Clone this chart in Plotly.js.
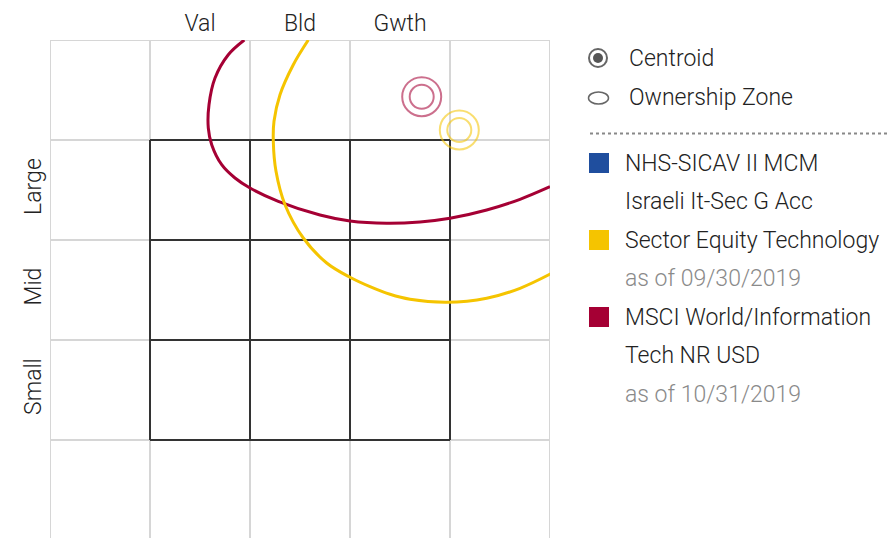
<!DOCTYPE html>
<html><head><meta charset="utf-8">
<script src="https://cdn.plot.ly/plotly-3.0.1.min.js"></script>
<style>html,body{margin:0;padding:0;overflow:hidden;background:#fff}</style>
</head><body><div id="chart" style="width:887px;height:538px"></div>
<script>
// ---- data ----
const styleLabels = ['Val', 'Bld', 'Gwth'];
const styleTicks = [0.5, 1.5, 2.5];
const sizeLabels = ['Small', 'Mid', 'Large'];
const sizeTicks = [0.5, 1.5, 2.5];
const gridX = [-1, 0, 1, 2, 3, 4];
const gridY = [0, 1, 2, 3, 4];
const boxEdges = [0, 1, 2, 3];

// Ownership zone outlines
const msciZoneX = [0.943, 0.783, 0.65, 0.59, 0.583, 0.617, 0.717, 0.85, 1.0, 1.283, 1.70, 2.0, 2.367, 2.70, 3.0, 3.367, 3.70, 4.0];
const msciZoneY = [4.0, 3.853, 3.62, 3.353, 3.12, 2.953, 2.753, 2.62, 2.52, 2.387, 2.25, 2.19, 2.167, 2.18, 2.217, 2.30, 2.407, 2.533];
const techZoneX = [1.583, 1.433, 1.30, 1.24, 1.233, 1.26, 1.35, 1.533, 1.767, 2.0, 2.20, 2.40, 2.60, 2.967, 3.367, 3.70, 4.017];
const techZoneY = [4.0, 3.753, 3.453, 3.187, 2.987, 2.687, 2.353, 2.02, 1.77, 1.627, 1.533, 1.457, 1.407, 1.377, 1.417, 1.517, 1.667];

// Centroids
const msciCentroid = [2.717, 3.433];
const techCentroid = [3.093, 3.10];

// Legend
const seriesNames = [['NHS-SICAV II MCM', 'Israeli It-Sec G Acc'], ['Sector Equity Technology', 'as of 09/30/2019'], ['MSCI World/Information', 'Tech NR USD', 'as of 10/31/2019']];
const seriesColors = ['#1f4e9e', '#f5c400', '#a50034'];
const keyLabels = ['Centroid', 'Ownership Zone'];

// ---- layout helpers ----
const FONT = "Roboto, 'Liberation Sans', sans-serif";
const W = 887, H = 538, ML = 50, MT = 40, PW = 500, PH = 498;
const px = x => (x - ML) / PW;
const py = y => (H - y) / PH;

const traces = [];
function zone(xs, ys, color) {
  traces.push({x: xs, y: ys, type: 'scatter', mode: 'lines', line: {color: color, width: 3, shape: 'spline', smoothing: 1}, hoverinfo: 'skip', showlegend: false});
}
zone(msciZoneX, msciZoneY, seriesColors[2]);
zone(techZoneX, techZoneY, seriesColors[1]);
function centroid(c, color) {
  traces.push({x: [c[0], c[0]], y: [c[1], c[1]], type: 'scatter', mode: 'markers', opacity: 0.8,
    marker: {symbol: 'circle-open', size: [39, 24], color: color, line: {width: 2, color: color}}, hoverinfo: 'skip', showlegend: false});
}
centroid(msciCentroid, seriesColors[2]);
centroid(techCentroid, seriesColors[1]);

const shapes = [];
gridX.forEach(v => shapes.push({type: 'line', xref: 'x', yref: 'y', x0: v, x1: v, y0: -1, y1: 4, line: {color: '#d6d6d6', width: 2}, layer: 'below'}));
gridY.forEach(v => shapes.push({type: 'line', xref: 'x', yref: 'y', x0: -1, x1: 4, y0: v, y1: v, line: {color: '#d6d6d6', width: 2}, layer: 'below'}));
boxEdges.forEach(v => {
  shapes.push({type: 'line', xref: 'x', yref: 'y', x0: v, x1: v, y0: 0, y1: 3, line: {color: '#333333', width: 2}, layer: 'below'});
  shapes.push({type: 'line', xref: 'x', yref: 'y', x0: 0, x1: 3, y0: v, y1: v, line: {color: '#333333', width: 2}, layer: 'below'});
});

// legend key icons
shapes.push({type: 'circle', xref: 'paper', yref: 'paper', x0: px(589), x1: px(607), y0: py(67), y1: py(49), line: {color: '#666', width: 2}, fillcolor: 'rgba(0,0,0,0)'});
shapes.push({type: 'circle', xref: 'paper', yref: 'paper', x0: px(593), x1: px(603), y0: py(63), y1: py(53), line: {width: 0}, fillcolor: '#555'});
shapes.push({type: 'circle', xref: 'paper', yref: 'paper', x0: px(588.5), x1: px(608.5), y0: py(104), y1: py(92), line: {color: '#666', width: 1.5}, fillcolor: 'rgba(0,0,0,0)'});
shapes.push({type: 'line', xref: 'paper', yref: 'paper', x0: px(590), x1: px(887), y0: py(133.5), y1: py(133.5), line: {color: '#888', width: 2, dash: 'dot'}});

const annotations = [];
const txt = (x, y, t, color) => annotations.push({xref: 'paper', yref: 'paper', x: px(x), y: py(y), text: t, showarrow: false, xanchor: 'left', yanchor: 'middle', borderpad: 0,
  font: {family: FONT, size: 23, weight: 300, color: color}});
txt(628, 58, keyLabels[0], '#222');
txt(628, 97, keyLabels[1], '#222');

const squareTops = [153, 230, 307];
const lineStep = 38.5;
seriesNames.forEach((lines, i) => {
  const top = squareTops[i];
  shapes.push({type: 'rect', xref: 'paper', yref: 'paper', x0: px(589), x1: px(609), y0: py(top + 20), y1: py(top), line: {width: 0}, fillcolor: seriesColors[i]});
  lines.forEach((l, j) => txt(624, top + 10 + j * lineStep, l, l.startsWith('as of') ? '#8a8a8a' : '#222'));
});

const layout = {
  width: W, height: H,
  margin: {l: ML, r: W - ML - PW, t: MT, b: 0, pad: 0},
  paper_bgcolor: '#fff', plot_bgcolor: '#fff',
  showlegend: false,
  xaxis: {range: [-1, 4], side: 'top', tickvals: styleTicks, ticktext: styleLabels, ticks: '', ticklabelstandoff: 3, showgrid: false, zeroline: false, showline: false,
    tickfont: {family: FONT, size: 23, weight: 300, color: '#222'}, fixedrange: true},
  yaxis: {range: [-0.98, 4], tickvals: sizeTicks, ticktext: sizeLabels, ticks: '', ticklabelstandoff: 3, tickangle: -90, showgrid: false, zeroline: false, showline: false,
    tickfont: {family: FONT, size: 23, weight: 300, color: '#222'}, fixedrange: true},
  shapes: shapes,
  annotations: annotations
};
Plotly.newPlot('chart', traces, layout, {displayModeBar: false, staticPlot: true});
</script></body></html>
